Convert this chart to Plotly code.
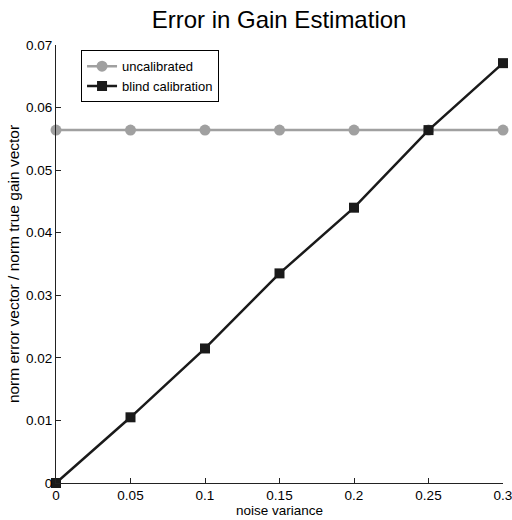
import plotly.graph_objects as go

noise_variance = [0, 0.05, 0.1, 0.15, 0.2, 0.25, 0.3]
uncalibrated = [0.0564, 0.0564, 0.0564, 0.0564, 0.0564, 0.0564, 0.0564]
blind_calibration = [0.0, 0.0105, 0.0215, 0.0335, 0.0440, 0.0564, 0.0671]

x_ticks = [0, 0.05, 0.1, 0.15, 0.2, 0.25, 0.3]
x_ticktext = ["0", "0.05", "0.1", "0.15", "0.2", "0.25", "0.3"]
y_ticks = [0, 0.01, 0.02, 0.03, 0.04, 0.05, 0.06, 0.07]
y_ticktext = ["0", "0.01", "0.02", "0.03", "0.04", "0.05", "0.06", "0.07"]

font_family = "Liberation Sans, Arial, Helvetica, sans-serif"

fig = go.Figure()
fig.add_trace(go.Scatter(
    x=noise_variance, y=uncalibrated, mode="lines+markers", name="uncalibrated",
    line=dict(color="#a0a0a0", width=2.5),
    marker=dict(symbol="circle", size=11, color="#a0a0a0"),
    cliponaxis=False,
))
fig.add_trace(go.Scatter(
    x=noise_variance, y=blind_calibration, mode="lines+markers", name="blind calibration",
    line=dict(color="#1a1a1a", width=2.5),
    marker=dict(symbol="square", size=10, color="#1a1a1a"),
    cliponaxis=False,
))

fig.update_layout(
    width=512, height=520,
    margin=dict(l=56, r=9, t=45, b=37, autoexpand=False),
    paper_bgcolor="white", plot_bgcolor="white",
    font=dict(family=font_family, size=13, color="black"),
    title=dict(text="Error in Gain Estimation", x=0.545, xanchor="center",
               y=0.962, yanchor="middle", font=dict(size=24, color="black")),
    showlegend=True,
    legend=dict(x=0.056, y=0.988, xanchor="left", yanchor="top",
                bordercolor="black", borderwidth=1, bgcolor="white",
                font=dict(size=13), tracegroupgap=0, itemwidth=30),
    xaxis=dict(range=[0, 0.3], tickvals=x_ticks, ticktext=x_ticktext,
               showgrid=False, zeroline=False, showline=True, linecolor="#222",
               linewidth=1, ticks="inside", ticklen=5, tickcolor="#222",
               ticklabeloverflow="allow", automargin=False,
               title=dict(text="noise variance", standoff=1, font=dict(size=13.5)),
               tickfont=dict(size=13.5)),
    yaxis=dict(range=[0, 0.07], tickvals=y_ticks, ticktext=y_ticktext,
               showgrid=False, zeroline=False, showline=True, linecolor="#222",
               linewidth=1, ticks="inside", ticklen=5, tickcolor="#222",
               ticklabeloverflow="allow", automargin=False,
               title=dict(text="norm error vector / norm true gain vector",
                          standoff=2, font=dict(size=15.5)),
               tickfont=dict(size=13.5)),
)

fig.write_html("out.html")
